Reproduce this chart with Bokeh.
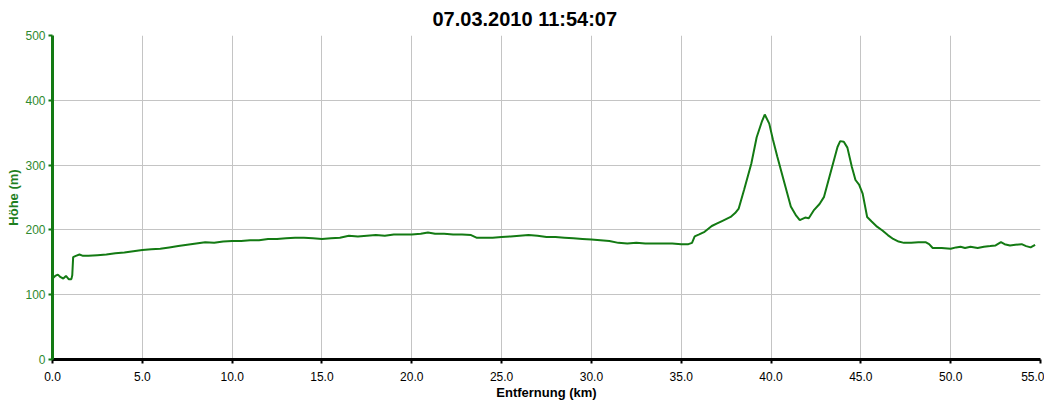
from bokeh.plotting import figure
from bokeh.models import FixedTicker, Range1d, PrintfTickFormatter
from bokeh.embed import file_html
from bokeh.resources import INLINE

title_text = "07.03.2010 11:54:07"
x_label = "Entfernung (km)"
y_label = "Höhe (m)"

km = [0.00, 0.15, 0.30, 0.45, 0.60, 0.75, 0.90, 1.05, 1.10, 1.15, 1.30, 1.50, 1.70,
      2.0, 2.5, 3.0, 3.5, 4.0, 4.5, 5.0, 5.5, 6.0, 6.5, 7.0, 7.5, 8.0, 8.5, 9.0, 9.5,
      10.0, 10.5, 11.0, 11.5, 12.0, 12.5, 13.0, 13.5, 14.0, 14.5, 15.0, 15.5, 16.0,
      16.5, 17.0, 17.5, 18.0, 18.5, 19.0, 19.5, 20.0, 20.5, 20.9, 21.3, 21.8, 22.3,
      22.8, 23.3, 23.6, 24.0, 24.5, 25.0, 25.5, 26.0, 26.5, 27.0, 27.5, 28.0, 28.5,
      29.0, 29.5, 30.0, 30.5, 31.0, 31.5, 32.0, 32.5, 33.0, 33.5, 34.0, 34.5, 35.0,
      35.4, 35.6, 35.75, 36.0, 36.3, 36.7, 37.0, 37.3, 37.75, 38.0, 38.2, 38.5, 38.9,
      39.2, 39.5, 39.65, 39.9, 40.1, 40.35, 40.7, 41.1, 41.4, 41.6, 41.9, 42.1, 42.4,
      42.7, 42.95, 43.3, 43.7, 43.85, 44.05, 44.25, 44.5, 44.7, 44.9, 45.1, 45.35,
      45.6, 45.9, 46.2, 46.5, 46.8, 47.1, 47.4, 47.8, 48.2, 48.6, 48.8, 49.0, 49.5,
      50.0, 50.3, 50.55, 50.8, 51.1, 51.5, 51.85, 52.2, 52.5, 52.8, 53.0, 53.3, 53.6,
      53.95, 54.2, 54.45, 54.7]
elev = [125, 129, 131, 127, 125, 129, 124, 124, 130, 158, 160, 162, 160,
        160, 161, 162, 164, 165, 167, 169, 170, 171, 173, 175, 177, 179, 181, 180, 182,
        183, 183, 184, 184, 186, 186, 187, 188, 188, 187, 186, 187, 188,
        191, 190, 191, 192, 191, 193, 193, 193, 194, 196, 194, 194, 193,
        193, 192, 188, 188, 188, 189, 190, 191, 192, 191, 189, 189, 188,
        187, 186, 185, 184, 183, 180, 179, 180, 179, 179, 179, 179, 178,
        178, 180, 190, 193, 197, 206, 210, 214, 220, 226, 233, 262, 302,
        343, 368, 378, 364, 340, 313, 277, 236, 222, 215, 219, 218, 231,
        240, 251, 287, 328, 337, 336, 327, 297, 277, 270, 256, 220,
        213, 205, 199, 192, 186, 182, 180, 180, 181, 181, 178, 172, 172,
        171, 173, 174, 172, 174, 172, 174, 175, 176, 181, 178, 176, 177,
        178, 175, 173, 177]

x_ticks = [0, 5, 10, 15, 20, 25, 30, 35, 40, 45, 50, 55]
y_ticks = [0, 100, 200, 300, 400, 500]

GREEN = "#137a13"

p = figure(width=1044, height=402, output_backend="svg", toolbar_location=None,
           x_range=Range1d(0, 55), y_range=Range1d(0, 500),
           min_border_left=52, min_border_right=4, min_border_top=35, min_border_bottom=42,
           title=title_text)
p.outline_line_color = None
p.background_fill_color = "white"
p.border_fill_color = "white"

p.title.text_font = "Liberation Sans"
p.title.text_font_size = "20px"
p.title.text_font_style = "bold"
p.title.text_color = "black"
p.title.align = "left"
p.title.offset = 380
p.title.standoff = 11

p.line(km, elev, line_color=GREEN, line_width=2)

p.xgrid.ticker = FixedTicker(ticks=x_ticks)
p.ygrid.ticker = FixedTicker(ticks=y_ticks)
for g in (p.xgrid, p.ygrid):
    g.grid_line_color = "#c4c4c4"
    g.grid_line_width = 1

xa = p.xaxis[0]
xa.ticker = FixedTicker(ticks=x_ticks)
xa.formatter = PrintfTickFormatter(format="%.1f")
xa.axis_line_color = "black"
xa.axis_line_width = 3
xa.major_tick_line_color = "black"
xa.major_tick_line_width = 2
xa.major_tick_out = 4
xa.major_tick_in = 0
xa.minor_tick_line_color = None
xa.major_label_text_font = "Liberation Sans"
xa.major_label_text_font_size = "12px"
xa.major_label_text_color = "black"
xa.major_label_standoff = 8
xa.axis_label = x_label
xa.axis_label_text_font = "Liberation Sans"
xa.axis_label_text_font_size = "13px"
xa.axis_label_text_font_style = "bold"
xa.axis_label_text_color = "black"
xa.axis_label_standoff = 1

ya = p.yaxis[0]
ya.ticker = FixedTicker(ticks=y_ticks)
ya.axis_line_color = GREEN
ya.axis_line_width = 3
ya.major_tick_line_color = GREEN
ya.major_tick_line_width = 2
ya.major_tick_out = 4
ya.major_tick_in = 0
ya.minor_tick_line_color = None
ya.major_label_text_font = "Liberation Sans"
ya.major_label_text_font_size = "12px"
ya.major_label_text_color = "#2f8a2f"
ya.major_label_standoff = 3
ya.axis_label = y_label
ya.axis_label_text_font = "Liberation Sans"
ya.axis_label_text_font_size = "13px"
ya.axis_label_text_font_style = "bold"
ya.axis_label_text_color = "#1f7f1f"
ya.axis_label_standoff = 1

open("out.html", "w").write(file_html(p, INLINE))
